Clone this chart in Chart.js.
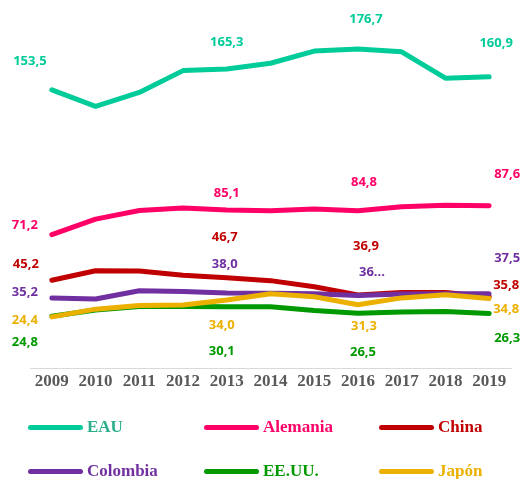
<!DOCTYPE html>
<html>
<head>
<meta charset="utf-8">
<script src="https://cdn.jsdelivr.net/npm/chart.js@4/dist/chart.umd.min.js"></script>
<style>
  body { margin: 0; background: #fff; }
  #wrap { position: relative; width: 525px; height: 479px; overflow: hidden; }
  #box { position: absolute; left: 0; top: 0; width: 525px; height: 400px; }
  #legend { position: absolute; left: 0; top: 0; width: 525px; height: 479px; pointer-events: none; }
  .item { position: absolute; display: flex; align-items: center; height: 22px;
          font: bold 17px "Liberation Serif", serif; }
  .swatch { display: inline-block; width: 55px; height: 5px; border-radius: 3px; margin-right: 4px; }
</style>
</head>
<body>
<div id="wrap">
  <div id="box"><canvas id="lineChart"></canvas></div>
  <div id="legend"></div>
</div>
<script>
const years = ["2009", "2010", "2011", "2012", "2013", "2014", "2015", "2016", "2017", "2018", "2019"];
const seriesNames = ["EAU", "Alemania", "China", "Colombia", "EE.UU.", "Japón"];

const eau      = [153.5, 144.1, 152.0, 164.4, 165.3, 168.6, 175.5, 176.7, 175.1, 160.1, 160.9];
const alemania = [71.2, 80.0, 84.9, 86.3, 85.1, 84.7, 85.7, 84.8, 87.0, 87.9, 87.6];
const china    = [45.2, 50.6, 50.5, 48.1, 46.7, 45.0, 41.5, 36.9, 38.2, 38.2, 35.8];
const colombia = [35.2, 34.6, 39.3, 38.8, 38.0, 37.8, 37.6, 36.5, 37.4, 37.6, 37.5];
const eeuu     = [24.8, 28.3, 30.3, 30.3, 30.1, 30.1, 28.0, 26.5, 27.2, 27.4, 26.3];
const japon    = [24.4, 28.8, 30.9, 31.2, 34.0, 37.6, 35.8, 31.3, 35.2, 37.0, 34.8];

// points that carry a value label
const labeledPoints = [0, 4, 7, 10];

const lineColors = ["#00cc99", "#ff0066", "#c00000", "#7030a0", "#009900", "#ebb000"];
const legendTextColors = ["#2aae8b", "#ff0066", "#c00000", "#7030a0", "#009900", "#ebb000"];

// label offsets from the point, in px, one per labeled point
const labelShift = [
  [[-22, -28], [0, -27], [8, -30], [7, -33]],
  [[-27, -9], [0, -17], [6, -28], [18, -31]],
  [[-26, -16], [-2, -40], [8, -49], [17, -12]],
  [[-27, -6], [-2, -29], [14, -23], [18, -36]],
  [[-27, 26], [-5, 44], [5, 39], [18, 25]],
  [[-27, 3], [-5, 25], [6, 22], [17, 11]]
];

const valueLabels = {
  id: "valueLabels",
  afterDatasetsDraw(chart) {
    const ctx = chart.ctx;
    ctx.save();
    ctx.font = "bold 13px 'Open Sans', sans-serif";
    ctx.textAlign = "center";
    ctx.textBaseline = "middle";
    chart.data.datasets.forEach((ds, di) => {
      const meta = chart.getDatasetMeta(di);
      labeledPoints.forEach((idx, k) => {
        const pt = meta.data[idx];
        const v = ds.data[idx];
        let txt = v.toFixed(1).replace(".", ",");
        // Excel cut this one short
        if (di === 3 && idx === 7) txt = "36...";
        ctx.fillStyle = lineColors[di];
        ctx.fillText(txt, pt.x + labelShift[di][k][0], pt.y + labelShift[di][k][1]);
      });
    });
    ctx.restore();
  }
};

const allSeries = [eau, alemania, china, colombia, eeuu, japon];

const chart = new Chart(document.getElementById("lineChart").getContext("2d"), {
  type: "line",
  data: {
    labels: years,
    datasets: allSeries.map((vals, i) => ({
      label: seriesNames[i],
      data: vals,
      order: allSeries.length - i, // later series on top, as in Excel
      borderColor: lineColors[i],
      backgroundColor: lineColors[i],
      borderWidth: 5,
      borderCapStyle: "round",
      borderJoinStyle: "round",
      pointRadius: 0,
      fill: false,
      tension: 0
    }))
  },
  options: {
    responsive: true,
    maintainAspectRatio: false,
    animation: false,
    layout: { padding: { left: 30, right: 14, top: 8, bottom: 5 } },
    plugins: {
      legend: { display: false },
      tooltip: { enabled: false }
    },
    scales: {
      y: { display: false, min: -5, max: 200 },
      x: {
        offset: true,
        grid: { display: false, drawTicks: false },
        border: { display: true, color: "#d9d9d9", width: 1 },
        ticks: {
          color: "#595959",
          padding: 3,
          maxRotation: 0,
          autoSkip: false,
          font: { family: "'Liberation Serif', serif", weight: "bold", size: 17 }
        }
      }
    }
  },
  plugins: [valueLabels]
});

// legend in two rows of three, like the original
const legendPos = [[28, 416], [204, 416], [379, 416], [28, 460], [204, 460], [379, 460]];
const legendBox = document.getElementById("legend");
chart.data.datasets.forEach((ds, i) => {
  const item = document.createElement("div");
  item.className = "item";
  item.style.left = legendPos[i][0] + "px";
  item.style.top = legendPos[i][1] + "px";
  item.style.color = legendTextColors[i];
  item.innerHTML = `<span class="swatch" style="background:${ds.borderColor}"></span>${ds.label}`;
  legendBox.appendChild(item);
});
</script>
</body>
</html>
